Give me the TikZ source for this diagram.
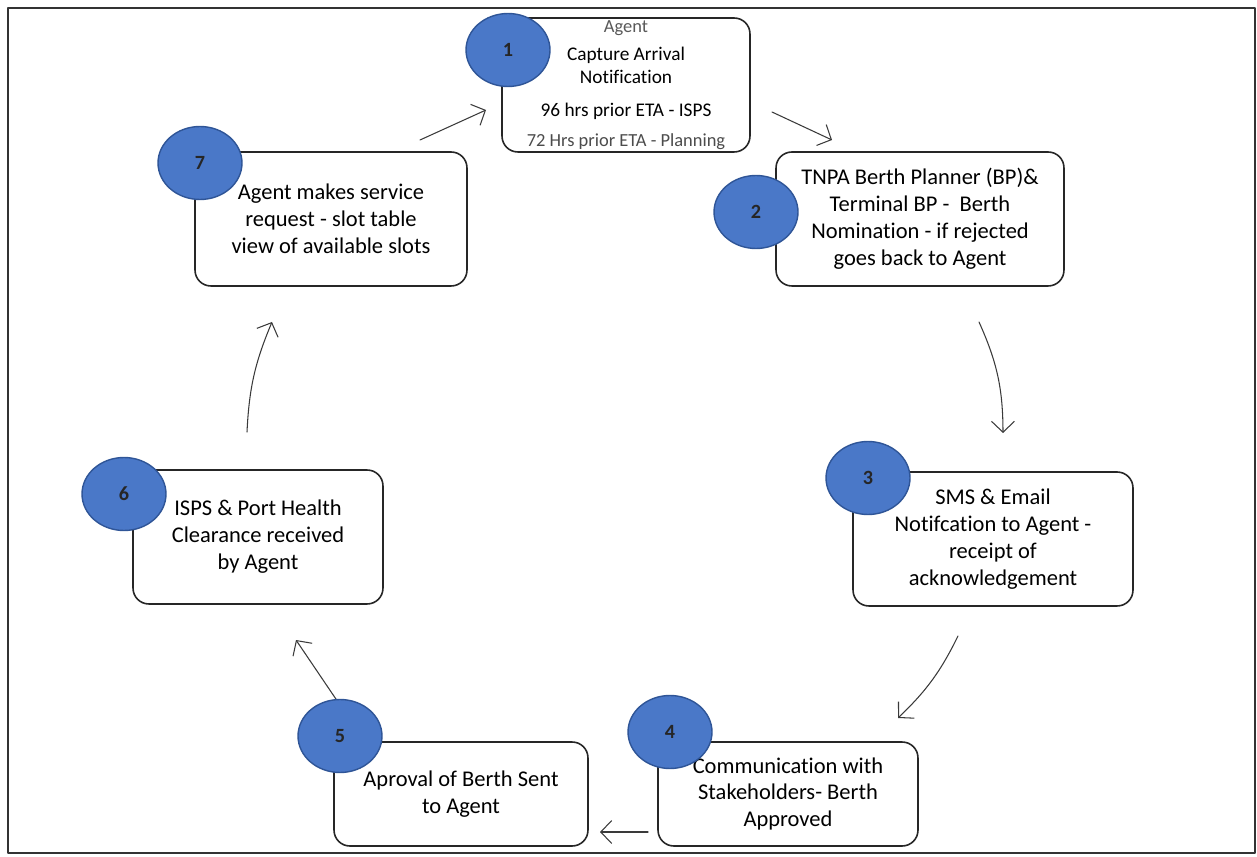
\documentclass[tikz,border=0pt]{standalone}
\usepackage{fontspec}
\setmainfont{Carlito}[Ligatures=CommonOff]
\usepackage{xcolor}
\usepackage{tikz}
\usetikzlibrary{arrows.meta}
\usetikzlibrary{shapes.geometric}

\definecolor{discblue}{HTML}{4A78C8}
\definecolor{discedge}{HTML}{2F5597}
\definecolor{linegray}{HTML}{3A3A3A}

\tikzset{
    stepbox/.style={draw=black!85, line width=0.9pt, rounded corners=9pt, fill=white,
        align=center, inner sep=0pt, minimum height=2.68cm,
        font=\fontsize{12.8}{15.3}\selectfont},
    numdisc/.style={ellipse, draw=discedge, line width=0.8pt, fill=discblue,
        minimum width=1.68cm, minimum height=1.46cm, inner sep=0pt,
        font=\fontsize{11.5}{13}\selectfont\bfseries, text=black!85},
    flow/.style={->, line width=0.6pt, draw=linegray},
}

\begin{document}
\begin{tikzpicture}[>={Straight Barb[length=2.2mm,width=4.6mm]}, line cap=round, line join=round, x=0.02cm, y=-0.02cm]

    \useasboundingbox (0,0) rectangle (1257,857);
    \draw[line width=1.5pt, black!80] (8,8) rectangle (1255,853);

    % process steps
    \node[stepbox, minimum width=4.96cm, font=\fontsize{11}{13.4}\selectfont] (box1) at (626,85)
        {{\fontsize{10.5}{12}\selectfont\color{black!65}Agent}\\[2.5pt]
         Capture Arrival\\ Notification\\[5.3pt]
         96 hrs prior ETA - ISPS\\[3.6pt]
         {\fontsize{10.5}{12}\selectfont\color{black!70}72 Hrs prior ETA - Planning}};
    \node[stepbox, minimum width=5.76cm] (box2) at (920,219)
        {TNPA Berth Planner (BP)\&\\ Terminal BP -\ \ Berth\\ Nomination - if rejected\\ goes back to Agent};
    \node[stepbox, minimum width=5.6cm] (box3) at (993,539)
        {SMS \& Email\\ Notifcation to Agent -\\ receipt of\\ acknowledgement};
    \node[stepbox, minimum width=5.2cm, minimum height=2.08cm] (box4) at (788,794)
        {Communication with\\ Stakeholders- Berth\\ Approved};
    \node[stepbox, minimum width=5.08cm, minimum height=2.08cm] (box5) at (461,794)
        {Aproval of Berth Sent\\ to Agent};
    \node[stepbox, minimum width=5.0cm] (box6) at (258,537)
        {ISPS \& Port Health\\ Clearance received\\ by Agent};
    \node[stepbox, minimum width=5.44cm] (box7) at (331,219)
        {Agent makes service\\ request - slot table\\ view of available slots};

    % arrow ends
    \coordinate (from1) at (772,112);
    \coordinate (to2) at (832,140);
    \coordinate (from2) at (979,322);
    \coordinate (to3) at (1003,433);
    \coordinate (from3) at (958,636);
    \coordinate (to4) at (898,718);
    \coordinate (from4) at (648,832);
    \coordinate (to5) at (600,832);
    \coordinate (from5) at (342,708);
    \coordinate (to6) at (296,640);
    \coordinate (from6) at (247,432);
    \coordinate (to7) at (272,322);
    \coordinate (from7) at (420,140);
    \coordinate (to1) at (486,110);

    \draw[flow] (from1) -- (to2);
    \draw[flow] (from2) to[bend left=12] (to3);
    \draw[flow] (from3) to[bend left=10] (to4);
    \draw[flow] (from4) -- (to5);
    \draw[flow] (from5) -- (to6);
    \draw[flow] (from6) to[bend left=10] (to7);
    \draw[flow] (from7) -- (to1);

    % numbered discs
    \node[numdisc] (num1) at (508,50) {1};
    \node[numdisc] (num2) at (756,212) {2};
    \node[numdisc] (num3) at (868,478) {3};
    \node[numdisc] (num4) at (670,732) {4};
    \node[numdisc] (num5) at (340,736) {5};
    \node[numdisc] (num6) at (124,494) {6};
    \node[numdisc] (num7) at (200,163) {7};

\end{tikzpicture}
\end{document}
